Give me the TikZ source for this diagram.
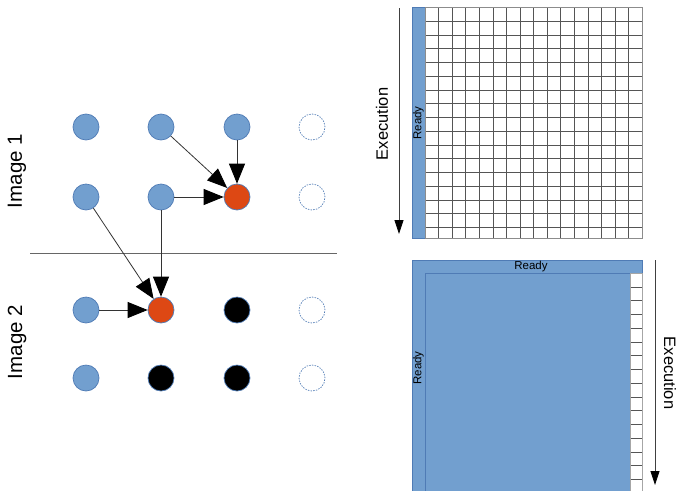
\documentclass[tikz,border=0pt]{standalone}
\usepackage{fontspec}
\setmainfont{Liberation Sans}
\usetikzlibrary{arrows.meta}
\definecolor{cellblue}{HTML}{729FCF}
\definecolor{edgeblue}{HTML}{4F7BB5}
\definecolor{hotred}{HTML}{DD4814}
\definecolor{gridline}{HTML}{555555}
\tikzset{
  dot/.style={circle, minimum size=26pt, inner sep=0pt, draw=edgeblue, line width=0.7pt},
  bluedot/.style={dot, fill=cellblue},
  reddot/.style={dot, fill=hotred},
  blackdot/.style={dot, fill=black},
  emptydot/.style={dot, fill=white, dash pattern=on 1.4pt off 1.3pt},
  dep/.style={draw=black!80, line width=0.8pt, -{Triangle[length=20pt,width=16pt,color=black]}},
  timeline/.style={draw=black!75, line width=0.8pt, -{Triangle[length=14pt,width=9pt,color=black]}},
  gridrule/.style={draw=gridline, line width=0.5pt},
  lbl/.style={font=\fontsize{11.5}{12}\selectfont, inner sep=0pt},
  biglbl/.style={font=\fontsize{16.5}{18}\selectfont, inner sep=0pt},
  imglbl/.style={font=\fontsize{20.5}{22}\selectfont, inner sep=0pt}
}
\begin{document}
\begin{tikzpicture}[x=1pt, y=-1pt]
\useasboundingbox (0,0) rectangle (679,490);

% ---- dependency grid: image 1 ----
\node[bluedot]  (a1) at (86,127) {};
\node[bluedot]  (a2) at (161,127) {};
\node[bluedot]  (a3) at (237,127) {};
\node[emptydot] (a4) at (312,127) {};
\node[bluedot]  (b1) at (86,197) {};
\node[bluedot]  (b2) at (161,197) {};
\node[reddot]   (b3) at (237,197) {};
\node[emptydot] (b4) at (312,197) {};

% ---- image 2 ----
\node[bluedot]  (c1) at (86,310) {};
\node[reddot]   (c2) at (161,310) {};
\node[blackdot] (c3) at (237,310) {};
\node[emptydot] (c4) at (312,310) {};
\node[bluedot]  (d1) at (86,378) {};
\node[blackdot] (d2) at (161,378) {};
\node[blackdot] (d3) at (237,378) {};
\node[emptydot] (d4) at (312,378) {};

% separator between the two images
\coordinate (sepL) at (30,253);
\coordinate (sepR) at (337,253);
\draw[black!60, line width=0.8pt] (sepL) -- (sepR);

\node[imglbl, rotate=90] (img1) at (17,171) {Image 1};
\node[imglbl, rotate=90] (img2) at (17,342) {Image 2};

% dependencies
\draw[dep] (a2) -- (b3);
\draw[dep] (a3) -- (b3);
\draw[dep] (b2) -- (b3);
\draw[dep] (b1) -- (c2);
\draw[dep] (b2) -- (c2);
\draw[dep] (c1) -- (c2);

% ---- top panel: full grid with ready column ----
\fill[cellblue] (412,7.3) rectangle (425,238.3);
\draw[edgeblue, line width=0.5pt] (412,7.3) rectangle (425,238.3);
\foreach \i in {1,...,16} {
  \draw[gridrule] ({425+\i*13.5625},7.3) -- ({425+\i*13.5625},238.3);
}
\foreach \j in {1,...,16} {
  \draw[gridrule] (425,{7.3+\j*13.75}) -- (642,{7.3+\j*13.75});
}
\draw[gridrule, draw=black!45] (425,7.3) rectangle (642,238.3);
\node[lbl, rotate=90] (rdyA) at (418.5,123) {Ready};

\coordinate (exAtop) at (399,8);
\coordinate (exAbot) at (399,234);
\draw[timeline] (exAtop) -- (exAbot);
\node[biglbl, rotate=90] (exA) at (382,124) {Execution};

% ---- bottom panel: ready area with execution column ----
\fill[cellblue] (412,260) rectangle (642,491);
\draw[edgeblue, line width=0.5pt] (412,260) rectangle (642,491);
\draw[edgeblue, line width=0.5pt] (425,273) -- (425,491);
\draw[edgeblue, line width=0.5pt] (425,273) -- (630.7,273);
\fill[white] (630.7,273) rectangle (642,491);
\draw[black!35, line width=0.5pt] (630.7,273) rectangle (642,491);
\foreach \j in {1,...,16} {
  \draw[gridrule] (630.7,{273+\j*13.75}) -- (642,{273+\j*13.75});
}
\node[lbl] (rdyB) at (531,266.5) {Ready};
\node[lbl, rotate=90] (rdyC) at (418.5,368) {Ready};

\coordinate (exBtop) at (655,260);
\coordinate (exBbot) at (655,485);
\draw[timeline] (exBtop) -- (exBbot);
\node[biglbl, rotate=-90] (exB) at (670,373) {Execution};
\end{tikzpicture}
\end{document}
